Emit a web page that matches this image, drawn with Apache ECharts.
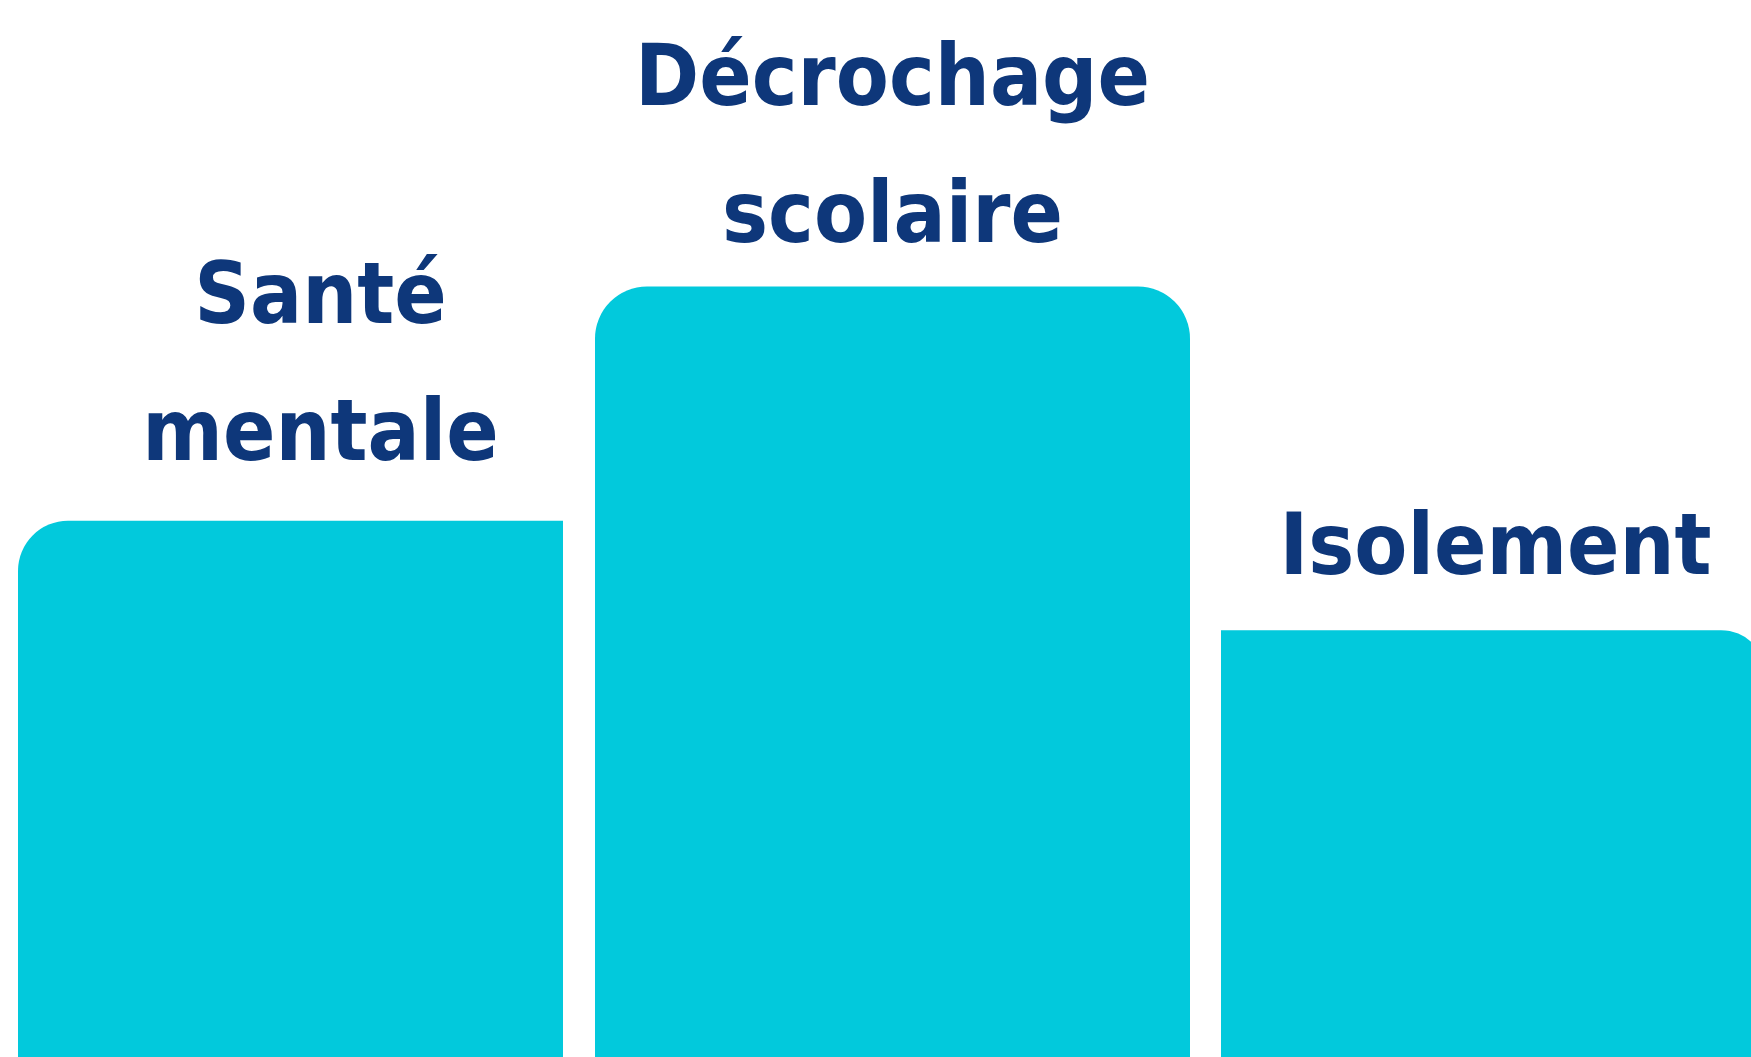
<!DOCTYPE html>
<html>
<head>
<meta charset="utf-8">
<title>Chart</title>
<script src="https://cdn.jsdelivr.net/npm/echarts@6.0.0/dist/echarts.min.js"></script>
<style>
  html, body { margin: 0; padding: 0; background: #fff; }
  #chart { width: 1751px; height: 1057px; }
</style>
</head>
<body>
<div id="chart"></div>
<script>
// data
const categories = ['Santé mentale', 'Décrochage scolaire', 'Isolement'];
const labels = ['Santé\nmentale', 'Décrochage\nscolaire', 'Isolement'];
const values = [34.8, 50, 27.7];
const yMax = 68.6;

// each bar lives in its own grid since widths differ
const grids = [
  { left: 18, width: 545 },
  { left: 595, width: 595 },
  { left: 1221, width: 545 },
];
const radius = [[50, 0, 0, 0], [52, 52, 0, 0], [0, 45, 0, 0]];
const labelDistance = [15, -2, 10];
const labelOffset = [[30, 0], [0, 0], [2, 0]];

const barColor = '#02c9dc';
const textColor = '#0e377a';

const chart = echarts.init(document.getElementById('chart'));

chart.setOption({
  animation: false,
  grid: grids.map(g => ({
    left: g.left,
    width: g.width,
    top: 0,
    bottom: 0,
    outerBoundsMode: 'none',
  })),
  xAxis: categories.map((c, i) => ({
    type: 'category',
    gridIndex: i,
    data: [c],
    show: false,
  })),
  yAxis: categories.map((c, i) => ({
    type: 'value',
    gridIndex: i,
    min: 0,
    max: yMax,
    show: false,
  })),
  series: categories.map((c, i) => ({
    type: 'bar',
    name: c,
    xAxisIndex: i,
    yAxisIndex: i,
    barWidth: '100%',
    data: [values[i]],
    itemStyle: {
      color: barColor,
      borderRadius: radius[i],
    },
    label: {
      show: true,
      position: 'top',
      distance: labelDistance[i],
      offset: labelOffset[i],
      formatter: () => labels[i],
      color: textColor,
      fontFamily: "'Liberation Sans Narrow', 'DejaVu Sans Condensed', sans-serif",
      fontWeight: 'bold',
      fontSize: 86,
      lineHeight: 137,
      align: 'center',
    },
  })),
});
</script>
</body>
</html>
